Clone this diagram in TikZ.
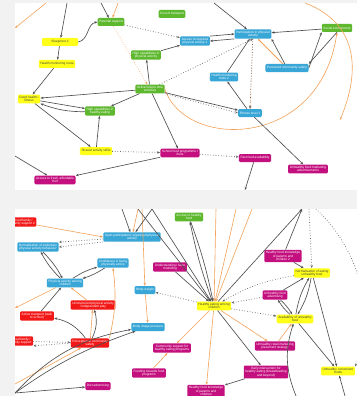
\documentclass[tikz,border=0pt]{standalone}
\usepackage{fontspec}
\setmainfont{Liberation Sans}
\usetikzlibrary{arrows.meta}

\definecolor{cldgreen}{HTML}{5DB82E}
\definecolor{cldyellow}{HTML}{FFFF1A}
\definecolor{cldblue}{HTML}{38A6D6}
\definecolor{cldmagenta}{HTML}{C4107E}
\definecolor{cldred}{HTML}{F21818}
\definecolor{cldorange}{HTML}{F4A25A}
\definecolor{linkgray}{HTML}{505050}
\definecolor{bggray}{HTML}{F2F2F2}

\tikzset{
  factor/.style={rounded corners=1.2pt, inner xsep=1.6pt, inner ysep=1.4pt, align=center,
                 font=\fontsize{3.2}{3.6}\selectfont, text=white, minimum height=8pt},
  grn/.style={factor, fill=cldgreen},
  yel/.style={factor, fill=cldyellow, text=black!75},
  blu/.style={factor, fill=cldblue},
  mag/.style={factor, fill=cldmagenta},
  rd/.style={factor, fill=cldred},
  link/.style={->, >={Stealth[length=3pt,width=2.4pt]}, draw=linkgray, line width=0.65pt},
  weak/.style={link, dotted, line width=0.8pt, draw=linkgray!85},
  orng/.style={link, draw=cldorange, line width=0.6pt},
}

\begin{document}
\begin{tikzpicture}[x=1pt, y=-1pt]
        \useasboundingbox (0,0) rectangle (357,396);
        % panels
        \fill[bggray] (0,0) rectangle (357,396);
        \fill[white] (15,3) rectangle (357,190);
        \fill[white] (15,209) rectangle (357,396);

        %%% upper panel
        \begin{scope}
        \clip (15,3) rectangle (357,190);
        % loose ends at the panel border
        \coordinate (ta) at (67,3);
        \coordinate (tb) at (101,3);
        \coordinate (tc) at (118,3);
        \coordinate (td) at (214,3);
        \coordinate (te) at (305,3);
        \coordinate (tf) at (46,3);
        \coordinate (la) at (15,28);
        \coordinate (lb) at (15,156);
        \coordinate (ba) at (245,190);

        % physical activity side
        \node[grn] (parsup) at (111,22) {Parental support};
        \node[grn] (costtr) at (172,14) {Cost of transport};
        \node[yel, minimum width=36pt] (sleep) at (60,42) {Sleep/rest 2};
        \node[yel] (hmroute) at (57,64) {Health monitoring route};
        \node[yel] (goodhf) at (29,99) {Good health /\\fitness};
        \node[grn] (hcpa) at (146,55) {High capabilities in\\physical activity};
        \node[grn] (alt) at (150,89) {Active leisure time\\activities};
        \node[grn] (hche) at (100,111) {High capabilities in\\healthy eating};
        \node[yel] (skills) at (96,151) {Shared activity skills};
        \node[blu] (accpa) at (195,41) {Access to required\\physical activity 1};
        \node[blu] (partpa) at (253,34) {Participation in physical\\activity};
        \node[grn] (social) at (337,28) {Social environment};
        \node[blu] (safety) at (287,68) {Perceived community safety};
        \node[blu] (hmt) at (224,77) {Health monitoring\\traits 2};
        \node[blu] (fit) at (250,113) {Fitness level 1};

        % food side
        \node[mag] (school) at (180,153) {School food programme /\\fruits};
        \node[mag] (fastfood) at (255,158) {Fast food availability};
        \node[mag] (unhmkt) at (308,169) {Unhealthy food marketing\\advertisements};
        \node[mag] (fresh) at (55,180) {Access to fresh, affordable\\fruit};

        % orange loops
        \draw[orng] (alt.east) .. controls (185,150) and (320,150) .. (social.south);
        \draw[orng] (te) .. controls (350,20) and (365,60) .. (340,120);
        \draw[orng] (tf) -- (la);
        \draw[orng] (tc) -- (parsup);
        \draw[orng, dotted] (parsup) -- (alt);
        \draw[orng, dotted] (partpa) -- (fit);
        \draw[orng, line width=1pt] (safety) -- (partpa);

        % links
        \draw[link] (ta) -- (sleep);
        \draw[link] (tb) -- (parsup);
        \draw[link] (td) -- (partpa);
        \draw[link] (sleep) -- (hmroute);
        \draw[link] (sleep.east) to[out=10, in=190] (parsup.west);
        \draw[link] (hmroute) -- (goodhf);
        \draw[weak] (parsup) -- (accpa);
        \draw[link] (alt) -- (hcpa);
        \draw[link] (hcpa) -- (accpa);
        \draw[link] (accpa.north east) -- (partpa.west);
        \draw[link] (partpa.south west) -- (accpa.east);
        \draw[link] (social) -- (partpa);
        \draw[link] (social.south) -- (safety.north east);
        \draw[link] (safety.east) -- (social.south west);
        \draw[link] (safety) -- (partpa.south east);
        \draw[link] (hmt) -- (partpa);
        \draw[weak] (alt) -- (partpa.south);
        \draw[link] (alt) -- (fit);
        \draw[weak] (alt.south east) -- (fit.west);
        \draw[link] (fit) -- (hmt);
        \draw[link] (fit) -- (unhmkt);
        \draw[weak] (partpa) -- (fit.north);
        \draw[link] (alt) -- (goodhf);
        \draw[link] (goodhf) -- (hche);
        \draw[link] (hche) to[bend left=10] (goodhf.south east);
        \draw[link] (alt) -- (hche);
        \draw[link] (goodhf) -- (skills);
        \draw[link] (skills) -- (hche);
        \draw[weak] (skills) -- (school);
        \draw[link] (school) -- (fresh);
        \draw[link] (alt) -- (school);
        \draw[link] (lb) -- (fresh);
        \draw[weak] (school) -- (fastfood);
        \draw[link] (fastfood) -- (ba);
        \end{scope}

        %%% lower panel
        \begin{scope}
        \clip (15,209) rectangle (357,396);
        % loose ends at the panel border
        \coordinate (ua) at (122,209);
        \coordinate (ub) at (138,209);
        \coordinate (uc) at (152,209);
        \coordinate (ud) at (216,209);
        \coordinate (ue) at (236,209);
        \coordinate (uf) at (252,209);
        \coordinate (ug) at (302,209);
        \coordinate (uh) at (309,209);
        \coordinate (ui) at (316,209);
        \coordinate (uj) at (142,209);
        \coordinate (lc) at (15,308);
        \coordinate (ld) at (15,393);
        \coordinate (le) at (15,384);
        \coordinate (bb) at (296,396);
        \coordinate (bc) at (345,396);

        % physical activity side
        \node[rd] (famsupp) at (20,222) {Perceived family /\\community support 2};
        \node[blu] (sport) at (132,237) {Sport participation/ organised physical\\activity};
        \node[grn] (acchf) at (189,217) {Access to healthy\\food};
        \node[blu] (normsed) at (38,247) {Normalisation of sedentary\\physical activity behaviour};
        \node[blu] (conf) at (113,263) {Confidence in being\\physically active};
        \node[blu] (pachild) at (65,283) {Physical activity among\\children};
        \node[blu] (bodyw) at (145,290) {Body weight};
        \node[rd] (unstruct) at (93,305) {Unstructured physical activity\\/ independent play};
        \node[rd] (acttr) at (37,316) {Active transport (walk\\to school)};
        \node[rd] (percsupp) at (18,341) {Perceived family /\\community support};
        \node[rd] (percsafe) at (90,343) {Perception of community\\safety};
        \node[blu] (bodyimg) at (148,327) {Body image pressure};

        % eating side
        \node[mag] (taste) at (170,267) {Understanding / taste\\modelling};
        \node[mag] (hfktwo) at (283,256) {Healthy food knowledge\\of parents and\\children 2};
        \node[yel] (normunh) at (312,273) {Normalisation of eating\\unhealthy food};
        \node[mag] (unhadv) at (275,295) {Unhealthy food\\advertising};
        \node[yel] (healthy) at (214,306) {Healthy eating among\\children};
        \node[yel] (availunh) at (295,319) {Availability of unhealthy\\food};
        \node[mag] (commhe) at (172,348) {Community support for\\healthy eating programs};
        \node[mag] (funding) at (149,373) {Funding towards food\\programs};
        \node[mag] (dietadv) at (98,386) {Diet advertising};
        \node[mag] (retail) at (275,346) {Unhealthy retail marketing\\placement strategy};
        \node[yel] (unhconv) at (338,371) {Unhealthy convenient\\foods};
        \node[mag] (early) at (266,372) {Early intervention for\\healthy eating (breastfeeding\\and beyond)};
        \node[mag] (hfk) at (206,391) {Healthy food knowledge\\of parents and\\children};

        % orange links
        \draw[orng] (famsupp) -- (sport.west);
        \draw[orng] (ub) -- (sport);
        \draw[orng] (uj) -- (bodyw);
        \draw[orng] (ud) -- (healthy);
        \draw[orng] (ue) -- (healthy);
        \draw[orng] (uf) -- (healthy);
        \draw[orng] (pachild) -- (lc);
        \draw[orng] (unstruct) -- (pachild);
        \draw[orng] (percsafe) -- (unstruct);
        \draw[orng] (percsafe.north east) to[bend right=10] (conf.south);
        \draw[orng] (bodyw) -- (bodyimg);
        \draw[orng] (le) -- (percsafe);
        \draw[orng] (funding) -- (commhe);
        \draw[orng] (healthy) -- (commhe);
        \draw[orng] (healthy) -- (hfk);
        \draw[orng] (healthy) -- (retail);
        \draw[orng] (retail) -- (availunh);

        % physical activity links
        \draw[link] (ua) -- (sport);
        \draw[link] (uc) -- (sport);
        \draw[weak] (sport) -- (normsed.north east);
        \draw[weak] (sport.south west) -- (normsed.east);
        \draw[link] (normsed) to[bend left=8] (pachild);
        \draw[link] (pachild) to[bend left=8] (normsed);
        \draw[link] (conf) to[bend left=8] (pachild);
        \draw[link] (pachild) to[bend left=8] (conf);
        \draw[link] (acttr) -- (pachild);
        \draw[link] (percsafe) to[bend right=20] (acttr);
        \draw[link] (percsafe) to[bend right=20] (unstruct);
        \draw[weak] (percsupp) -- (percsafe);
        \draw[weak] (percsafe.west) -- (percsupp.south east);
        \draw[weak] (healthy) -- (bodyw);
        \draw[link] (ld) to[bend left=8] (bodyimg);
        \draw[link] (ld) to[bend left=18] (bodyimg);
        \draw[link] (ld) -- (dietadv);

        % eating links
        \draw[link] (ub) -- (healthy);
        \draw[link] (uc) -- (healthy);
        \draw[link] (taste) -- (healthy);
        \draw[link] (healthy) to[bend left=4] (acchf);
        \draw[link] (acchf) to[bend left=4] (healthy);
        \draw[link] (healthy) -- (ug);
        \draw[link] (hfktwo) -- (ug);
        \draw[weak] (uh) -- (normunh);
        \draw[weak] (ui) .. controls (370,260) and (372,330) .. (unhconv.north east);
        \draw[link] (hfktwo) -- (normunh);
        \draw[weak] (normunh) to[bend right=10] (healthy);
        \draw[weak] (unhadv) -- (healthy);
        \draw[link] (unhadv) to[bend left=8] (availunh);
        \draw[link] (availunh) to[bend left=8] (unhadv);
        \draw[link] (unhadv) -- (normunh);
        \draw[link] (availunh) to[bend left=10] (normunh);
        \draw[link] (normunh) to[bend left=10] (availunh);
        \draw[weak] (healthy) -- (availunh);
        \draw[link] (availunh) -- (unhconv);
        \draw[link] (normunh) -- (unhconv);
        \draw[link] (bc) -- (unhconv);
        \draw[link] (bb) to[bend left=20] (availunh);
        \draw[link] (healthy) -- (early);
        \draw[link] (early) -- (hfk);
        \end{scope}
\end{tikzpicture}
\end{document}
